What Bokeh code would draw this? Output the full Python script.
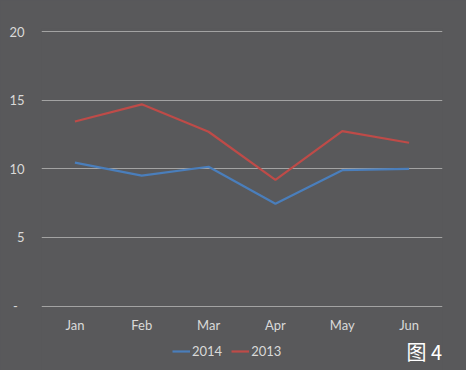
from bokeh.plotting import figure
from bokeh.models import Range1d, FactorRange, FixedTicker, Legend, LegendItem, Label, CategoricalAxis
from bokeh.embed import file_html
from bokeh.resources import INLINE

months = ["Jan", "Feb", "Mar", "Apr", "May", "Jun"]
s2014 = [10.45, 9.5, 10.15, 7.45, 9.9, 10.0]
s2013 = [13.45, 14.7, 12.7, 9.2, 12.75, 11.9]
yticks = [0, 5, 10, 15, 20]
ylabels = {0: "-\u00a0\u00a0", 5: "5", 10: "10", 15: "15", 20: "20"}

BG = "#59595b"
TXT = "#d9d9d9"
FONT = "Lato"

p = figure(width=466, height=370, output_backend="svg", toolbar_location=None,
           x_range=FactorRange(*months, range_padding=0),
           y_range=Range1d(-4.70, 20.226),
           x_axis_location=None,
           min_border_left=41, min_border_right=24, min_border_top=28, min_border_bottom=0)
p.background_fill_color = BG
p.border_fill_color = BG
p.outline_line_color = None

r1 = p.line(months, s2014, line_color="#4a7ebb", line_width=2.2)
r2 = p.line(months, s2013, line_color="#be4b48", line_width=2.2)

p.xgrid.grid_line_color = None
p.ygrid.grid_line_color = "#a3a3a3"
p.ygrid.grid_line_width = 1.2
p.yaxis.ticker = FixedTicker(ticks=yticks)
p.yaxis.major_label_overrides = ylabels

# category axis drawn just under the zero line
xaxis = CategoricalAxis(fixed_location=-2.0)
p.add_layout(xaxis, "above")

for ax in (xaxis, p.yaxis[0]):
    ax.axis_line_color = None
    ax.major_tick_line_color = None
    ax.minor_tick_line_color = None
    ax.major_tick_out = 0
    ax.major_tick_in = 0
    ax.major_label_text_color = TXT
    ax.major_label_text_font = FONT
    ax.major_label_text_font_size = "13px"
xaxis.major_label_standoff = 0
p.yaxis.major_label_standoff = 17

legend = Legend(items=[LegendItem(label="2014", renderers=[r1]),
                       LegendItem(label="2013", renderers=[r2])],
                location=(131, 11), orientation="horizontal",
                glyph_width=18, glyph_height=16, label_standoff=2, spacing=9,
                padding=0, margin=0, border_line_color=None,
                background_fill_alpha=0, label_text_color=TXT,
                label_text_font=FONT, label_text_font_size="13px")
p.add_layout(legend, "center")

fig = Label(x=365, y=19, x_units="screen", y_units="screen", text="图 4",
            text_color="#ffffff", text_font="Noto Sans CJK SC", text_font_size="20px",
            text_baseline="alphabetic")
p.add_layout(fig)

html = file_html(p, INLINE)
html = html.replace("</head>", "<style>body{background:%s;}</style></head>" % BG, 1)
open("out.html", "w").write(html)
